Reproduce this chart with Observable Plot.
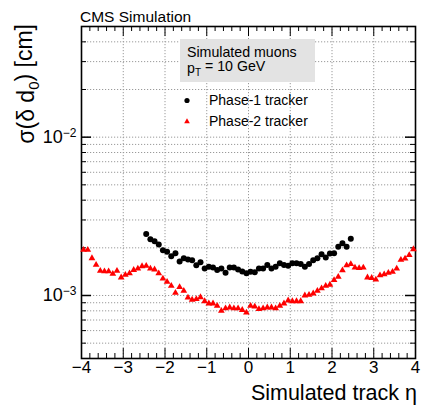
<!DOCTYPE html>
<html><head><meta charset="utf-8">
<script src="https://cdn.jsdelivr.net/npm/d3@7"></script>
<script src="https://cdn.jsdelivr.net/npm/@observablehq/plot@0.6"></script>
<style>
body{margin:0;background:#fff;}
#chart{width:422px;height:405px;}
svg{font-family:"Liberation Sans",Arial,Helvetica,sans-serif;}
</style></head><body><div id="chart"></div>
<script>
// Phase-1 tracker (black circles)
const eta1 = [-2.45,-2.35,-2.25,-2.15,-2.05,-1.95,-1.85,-1.75,-1.65,-1.55,-1.45,-1.35,-1.25,-1.15,-1.05,-0.95,-0.85,-0.75,-0.65,-0.55,-0.45,-0.35,-0.25,-0.15,-0.05,0.05,0.15,0.25,0.35,0.45,0.55,0.65,0.75,0.85,0.95,1.05,1.15,1.25,1.35,1.45,1.55,1.65,1.75,1.85,1.95,2.05,2.15,2.25,2.35,2.45];
const sigma1 = [2.45e-3,2.27e-3,2.20e-3,2.10e-3,1.93e-3,1.89e-3,1.77e-3,1.85e-3,1.64e-3,1.72e-3,1.69e-3,1.67e-3,1.55e-3,1.62e-3,1.48e-3,1.52e-3,1.50e-3,1.45e-3,1.48e-3,1.39e-3,1.50e-3,1.50e-3,1.46e-3,1.42e-3,1.38e-3,1.41e-3,1.40e-3,1.48e-3,1.48e-3,1.56e-3,1.48e-3,1.52e-3,1.60e-3,1.56e-3,1.54e-3,1.60e-3,1.60e-3,1.58e-3,1.52e-3,1.58e-3,1.67e-3,1.72e-3,1.82e-3,1.74e-3,1.84e-3,1.85e-3,2.03e-3,2.14e-3,2.03e-3,2.28e-3];
// Phase-2 tracker (red triangles)
const eta2 = [-3.95,-3.85,-3.75,-3.65,-3.55,-3.45,-3.35,-3.25,-3.15,-3.05,-2.95,-2.85,-2.75,-2.65,-2.55,-2.45,-2.35,-2.25,-2.15,-2.05,-1.95,-1.85,-1.75,-1.65,-1.55,-1.45,-1.35,-1.25,-1.15,-1.05,-0.95,-0.85,-0.75,-0.65,-0.55,-0.45,-0.35,-0.25,-0.15,-0.05,0.05,0.15,0.25,0.35,0.45,0.55,0.65,0.75,0.85,0.95,1.05,1.15,1.25,1.35,1.45,1.55,1.65,1.75,1.85,1.95,2.05,2.15,2.25,2.35,2.45,2.55,2.65,2.75,2.85,2.95,3.05,3.15,3.25,3.35,3.45,3.55,3.65,3.75,3.85,3.95];
const sigma2 = [1.94e-3,1.94e-3,1.72e-3,1.56e-3,1.43e-3,1.42e-3,1.42e-3,1.37e-3,1.43e-3,1.30e-3,1.35e-3,1.38e-3,1.45e-3,1.48e-3,1.53e-3,1.54e-3,1.48e-3,1.46e-3,1.38e-3,1.28e-3,1.22e-3,1.15e-3,1.04e-3,1.13e-3,1.07e-3,0.97e-3,0.94e-3,0.95e-3,0.975e-3,0.92e-3,0.89e-3,0.89e-3,0.86e-3,0.80e-3,0.83e-3,0.84e-3,0.83e-3,0.83e-3,0.81e-3,0.78e-3,0.86e-3,0.85e-3,0.82e-3,0.83e-3,0.84e-3,0.84e-3,0.83e-3,0.86e-3,0.89e-3,0.93e-3,0.92e-3,0.92e-3,0.92e-3,1.00e-3,1.01e-3,1.03e-3,1.07e-3,1.11e-3,1.15e-3,1.17e-3,1.25e-3,1.31e-3,1.44e-3,1.55e-3,1.58e-3,1.50e-3,1.49e-3,1.50e-3,1.30e-3,1.29e-3,1.26e-3,1.34e-3,1.36e-3,1.39e-3,1.41e-3,1.48e-3,1.68e-3,1.71e-3,1.80e-3,1.96e-3];

const xTicks = [-4,-3,-2,-1,0,1,2,3,4];
const xTickLabels = ["−4","−3","−2","−1","0","1","2","3","4"];
const xMinorTicks = [-3.8,-3.6,-3.4,-3.2,-2.8,-2.6,-2.4,-2.2,-1.8,-1.6,-1.4,-1.2,-0.8,-0.6,-0.4,-0.2,0.2,0.4,0.6,0.8,1.2,1.4,1.6,1.8,2.2,2.4,2.6,2.8,3.2,3.4,3.6,3.8];
const yDecades = [1e-3, 1e-2];
const yDecadeLabels = [["10","−3"],["10","−2"]];
const yMinorTicks = [4e-4,5e-4,6e-4,7e-4,8e-4,9e-4,2e-3,3e-3,4e-3,5e-3,6e-3,7e-3,8e-3,9e-3,2e-2,3e-2,4e-2,5e-2];
const yGridValues = [4e-4,5e-4,6e-4,7e-4,8e-4,9e-4,1e-3,2e-3,3e-3,4e-3,5e-3,6e-3,7e-3,8e-3,9e-3,1e-2,2e-2,3e-2,4e-2];
const yDomain = [4e-4, 5e-2];
const xDomain = [-4, 4];
const seriesNames = ["Phase-1 tracker", "Phase-2 tracker"];
const seriesColors = ["#000000", "#ff0000"];

const phase1 = eta1.map((e,i)=>({eta:e, s:sigma1[i]}));
const phase2 = eta2.map((e,i)=>({eta:e, s:sigma2[i]}));

const W=422, H=405, mL=81, mR=7, mT=26, mB=47;
const iw = W-mL-mR, ih = H-mT-mB;
const gridStyle = {stroke:"#9a9a9a", strokeOpacity:1, strokeDasharray:"1.2,1.8", strokeWidth:1};
const font = '"Liberation Sans",Arial,Helvetica,sans-serif';

const chart = Plot.plot({
  width:W, height:H, marginLeft:mL, marginRight:mR, marginTop:mT, marginBottom:mB,
  x:{domain:xDomain},
  y:{type:"log", domain:yDomain},
  style:{fontFamily:font, background:"white", color:"black"},
  marks:[
    Plot.gridX(xTicks, gridStyle),
    Plot.gridY(yGridValues, gridStyle),
    Plot.tickX(xMinorTicks, {x:d=>d, insetTop: ih-5, stroke:"black"}),
    Plot.tickX(xTicks, {x:d=>d, insetTop: ih-10, stroke:"black"}),
    Plot.tickX(xMinorTicks, {x:d=>d, insetBottom: ih-5, stroke:"black"}),
    Plot.tickX(xTicks, {x:d=>d, insetBottom: ih-10, stroke:"black"}),
    Plot.tickY(yMinorTicks, {y:d=>d, insetRight: iw-5, stroke:"black"}),
    Plot.tickY(yDecades, {y:d=>d, insetRight: iw-10, stroke:"black", strokeWidth:1.5}),
    Plot.tickY(yMinorTicks, {y:d=>d, insetLeft: iw-5, stroke:"black"}),
    Plot.tickY(yDecades, {y:d=>d, insetLeft: iw-10, stroke:"black", strokeWidth:1.5}),
    Plot.axisX(xTicks, {tickSize:0, tickPadding:2, fontSize:17, label:null,
      tickFormat: d => xTickLabels[xTicks.indexOf(d)]}),
    Plot.axisY(yDecades, {tickSize:0, tickPadding:5, fontSize:18, label:null,
      tickFormat: d => yDecadeLabels[yDecades.indexOf(d)].join("|")}),
    Plot.frame({stroke:"black", strokeWidth:1.6}),
    Plot.dot(phase2, {x:"eta", y:"s", symbol:"triangle", fill:seriesColors[1], r:2.5}),
    Plot.dot(phase1, {x:"eta", y:"s", symbol:"circle", fill:seriesColors[0], r:3})
  ]
});
document.getElementById("chart").appendChild(chart);

const svg = d3.select(chart);
svg.selectAll('g[aria-label="y-axis tick label"] text').each(function(){
  const parts = this.textContent.split("|");
  const t = d3.select(this);
  t.text(null);
  t.append("tspan").text(parts[0]);
  t.append("tspan").attr("dy","-0.5em").attr("font-size","12px").text(parts[1]);
});

const ann = svg.append("g").attr("font-family",font).attr("text-anchor","start").attr("fill","black");

ann.append("text").attr("x",80).attr("y",21.5).attr("font-size",15.5).text("CMS Simulation");

ann.append("text").attr("x",417).attr("y",399.5).attr("text-anchor","end").attr("font-size",21.5).text("Simulated track η");
const yt = ann.append("text").attr("transform","translate(34,24) rotate(-90)").attr("text-anchor","end").attr("font-size",23);
yt.append("tspan").text("σ(δ d");
yt.append("tspan").attr("dy","0.3em").attr("font-size","15px").text("0");
yt.append("tspan").attr("dy","-0.3em").text(") [cm]");

ann.append("rect").attr("x",180).attr("y",39).attr("width",135).attr("height",43).attr("fill","#e3e3e3");
ann.append("text").attr("x",187).attr("y",56.5).attr("font-size",14.2).text("Simulated muons");
const pt = ann.append("text").attr("x",187).attr("y",72.5).attr("font-size",14.2);
pt.append("tspan").text("p");
pt.append("tspan").attr("dy","0.35em").attr("font-size","10px").text("T");
pt.append("tspan").attr("dy","-0.35em").text(" = 10 GeV");

ann.append("circle").attr("cx",187).attr("cy",100.5).attr("r",2.6).attr("fill",seriesColors[0]);
ann.append("text").attr("x",209).attr("y",105).attr("font-size",14).text(seriesNames[0]);
ann.append("path").attr("d", d3.symbol(d3.symbolTriangle, 14)()).attr("transform","translate(187,121.5)").attr("fill",seriesColors[1]);
ann.append("text").attr("x",209).attr("y",126).attr("font-size",14).text(seriesNames[1]);
</script></body></html>
